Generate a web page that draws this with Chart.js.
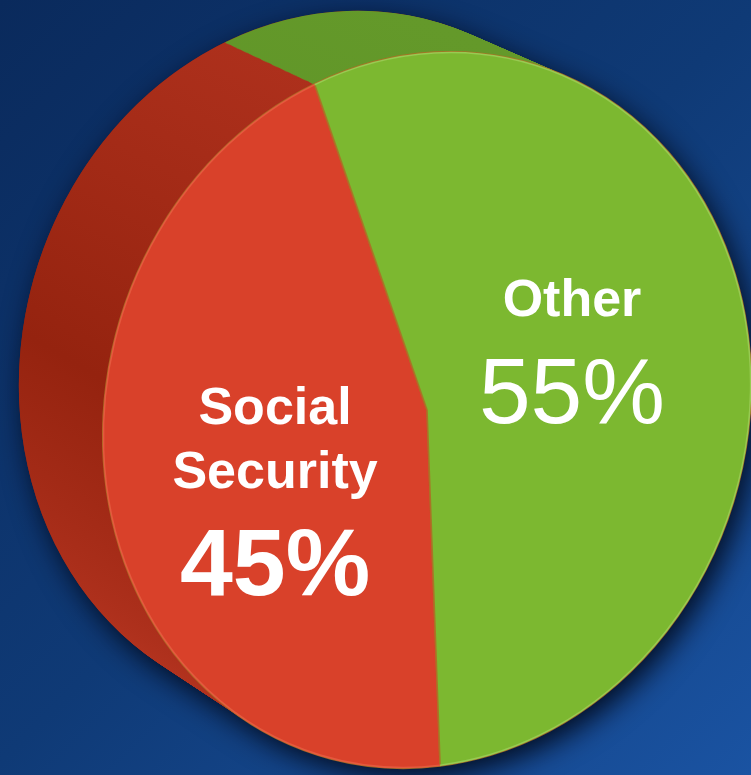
<!DOCTYPE html>
<html>
<head>
<meta charset="utf-8">
<title>Social Security share</title>
<script src="https://cdn.jsdelivr.net/npm/chart.js@4.4.1/dist/chart.umd.min.js"></script>
<style>
  html, body { margin: 0; padding: 0; overflow: hidden; }
  body {
    width: 751px;
    height: 775px;
    background: linear-gradient(135deg, #0a2a5c 0%, #0f3a76 50%, #1a53a2 100%);
  }
  canvas { display: block; }
</style>
</head>
<body>
<canvas id="sharePie" width="751" height="775"></canvas>
<script>
'use strict';

// ── Data ──────────────────────────────────────────────────────────────────────
const CATEGORIES = ['Social Security', 'Other'];
const LABEL_LINES = [['Social', 'Security'], ['Other']];
const SHARES = [45, 55];

// ── Styling ───────────────────────────────────────────────────────────────────
const FACE_COLORS = ['#d9412a', '#7cb830'];
const RIM_COLORS = ['#e5593e', '#97cb52'];
const SIDE_TOP = ['#b3331f', '#64992a'];
const SIDE_BOTTOM = ['#95230f', '#5a9024'];
const PERCENT_WEIGHTS = ['bold', 'normal'];
const PERCENT_SIZES = [95, 93];
const NAME_SIZE = 52;
const FONT = '"Liberation Sans", Arial, sans-serif';
const LABEL_NUDGE = [[7, 33], [-14, -11]];

// disc perspective: ellipse stretch, tilt and extrusion depth
const RADIUS = 300;
const SX = 320 / RADIUS;
const SY = 362 / RADIUS;
const TILT = 18 * Math.PI / 180;
const DEPTH_X = -92;
const DEPTH_Y = -50;
const DEPTH_SHRINK = 0.025;  // back face is a little smaller than the front
const DEPTH_STEPS = 80;

// ── Helpers ───────────────────────────────────────────────────────────────────

function applyFace(ctx, cx, cy, t) {
  const k = 1 - DEPTH_SHRINK * t;
  ctx.translate(cx + DEPTH_X * t, cy + DEPTH_Y * t);
  ctx.rotate(TILT);
  ctx.scale(SX * k, SY * k);
  ctx.translate(-cx, -cy);
}

// circle space -> screen space, same mapping as applyFace for the front face
function toScreen(cx, cy, px, py) {
  const dx = (px - cx) * SX;
  const dy = (py - cy) * SY;
  const c = Math.cos(TILT);
  const s = Math.sin(TILT);
  return [cx + dx * c - dy * s, cy + dx * s + dy * c];
}

function sideFill(ctx, arc, i) {
  const g = ctx.createLinearGradient(arc.x, arc.y - arc.outerRadius, arc.x, arc.y + arc.outerRadius);
  g.addColorStop(0, SIDE_TOP[i]);
  g.addColorStop(0.6, SIDE_BOTTOM[i]);
  g.addColorStop(1, SIDE_TOP[i]);
  return g;
}

const discPlugin = {
  id: 'disc3d',
  beforeDatasetsDraw(chart) {
    const ctx = chart.ctx;
    const arcs = chart.getDatasetMeta(0).data;
    const cx = arcs[0].x;
    const cy = arcs[0].y;
    const r = arcs[0].outerRadius;

    // soft shadow under the whole solid
    ctx.save();
    ctx.beginPath();
    for (let k = 0; k <= DEPTH_STEPS; k += 4) {
      ctx.save();
      applyFace(ctx, cx, cy, k / DEPTH_STEPS);
      ctx.moveTo(cx + r, cy);
      ctx.arc(cx, cy, r, 0, Math.PI * 2);
      ctx.restore();
    }
    ctx.shadowColor = 'rgba(0, 6, 20, 0.9)';
    ctx.shadowBlur = 28;
    ctx.shadowOffsetX = 6;
    ctx.shadowOffsetY = 9;
    ctx.fillStyle = SIDE_BOTTOM[0];
    ctx.fill();
    ctx.restore();

    // side wall, stacked from the back face forward
    for (let k = DEPTH_STEPS; k >= 1; k--) {
      ctx.save();
      applyFace(ctx, cx, cy, k / DEPTH_STEPS);
      arcs.forEach((arc, i) => {
        ctx.beginPath();
        ctx.moveTo(arc.x, arc.y);
        ctx.arc(arc.x, arc.y, arc.outerRadius, arc.startAngle, arc.endAngle);
        ctx.closePath();
        ctx.fillStyle = sideFill(ctx, arc, i);
        ctx.fill();
      });
      ctx.restore();
    }

    // front face is drawn by Chart.js under this transform
    ctx.save();
    applyFace(ctx, cx, cy, 0);
  },
  afterDatasetsDraw(chart) {
    const ctx = chart.ctx;
    const arcs = chart.getDatasetMeta(0).data;

    arcs.forEach((arc, i) => {
      ctx.beginPath();
      ctx.arc(arc.x, arc.y, arc.outerRadius - 0.6, arc.startAngle, arc.endAngle);
      ctx.strokeStyle = RIM_COLORS[i];
      ctx.lineWidth = 1.4;
      ctx.stroke();
    });
    ctx.restore();

    // slice labels
    ctx.save();
    ctx.fillStyle = '#ffffff';
    ctx.textAlign = 'center';
    ctx.textBaseline = 'alphabetic';
    arcs.forEach((arc, i) => {
      const mid = (arc.startAngle + arc.endAngle) / 2;
      const [ax, ay] = toScreen(arc.x, arc.y,
        arc.x + 0.5 * arc.outerRadius * Math.cos(mid),
        arc.y + 0.5 * arc.outerRadius * Math.sin(mid));
      const x = ax + LABEL_NUDGE[i][0];
      const yc = ay + LABEL_NUDGE[i][1];
      const lines = LABEL_LINES[i];
      const capTop = NAME_SIZE * 0.716;
      const height = capTop + 64 * (lines.length - 1) + 107;
      let y = yc - height / 2 + capTop;
      ctx.font = 'bold ' + NAME_SIZE + 'px ' + FONT;
      lines.forEach((line, j) => {
        ctx.fillText(line, x, y);
        if (j < lines.length - 1) y += 64;
      });
      y += 107;
      ctx.font = PERCENT_WEIGHTS[i] + ' ' + PERCENT_SIZES[i] + 'px ' + FONT;
      ctx.fillText(SHARES[i] + '%', x, y);
    });
    ctx.restore();
  },
};

new Chart(document.getElementById('sharePie'), {
  type: 'pie',
  data: {
    labels: CATEGORIES,
    datasets: [{
      data: SHARES,
      backgroundColor: FACE_COLORS,
      borderColor: 'rgba(172, 112, 38, 0.9)',
      borderWidth: 1.5,
      clip: false,
    }],
  },
  options: {
    responsive: false,
    animation: false,
    events: [],
    rotation: 157.5,
    radius: RADIUS,
    layout: { padding: { left: 103, right: 0, top: 45, bottom: 0 } },
    plugins: {
      legend: { display: false },
      tooltip: { enabled: false },
    },
  },
  plugins: [discPlugin],
});
</script>
</body>
</html>
